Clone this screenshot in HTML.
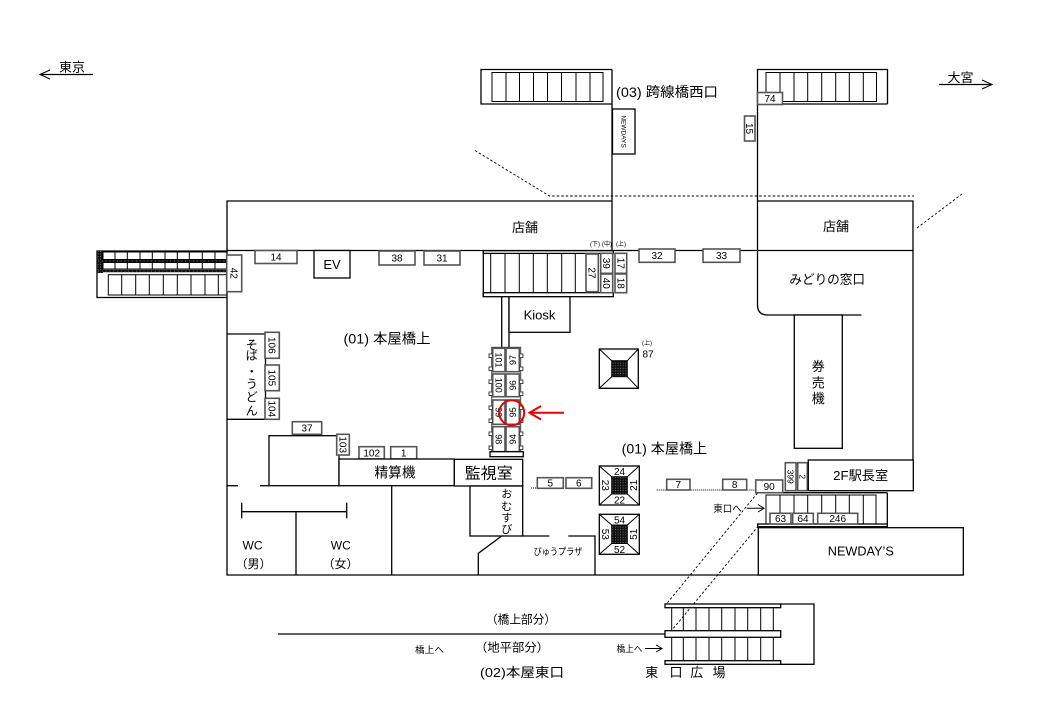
<!DOCTYPE html>
<html><head><meta charset="utf-8"><style>
html,body{margin:0;padding:0;background:#fff;}
svg{display:block}
text{font-family:"Liberation Sans","Noto Sans CJK JP",sans-serif;fill:#000}
.l{stroke:#000;stroke-width:1.3;fill:none}
.w{stroke:#000;stroke-width:1.3;fill:#fff}
.b{stroke:#555;stroke-width:1.6;fill:#fff}
.t{stroke:#000;stroke-width:1;fill:none}
.n{font-size:10px;text-anchor:middle}
.s{font-size:8.5px;text-anchor:middle}
.c{text-anchor:middle}
.d{stroke:#000;stroke-width:0.9;fill:none;stroke-dasharray:2.5 2}
</style></head><body>
<svg width="1040" height="720" viewBox="0 0 1040 720">
<defs>
<pattern id="dp" width="2.6" height="2.6" patternUnits="userSpaceOnUse"><rect width="2.6" height="2.6" fill="#111"/><rect x="1.4" y="1.4" width="0.8" height="0.8" fill="#999"/></pattern>
</defs>

<!-- direction arrows -->
<line class="l" x1="40" y1="74.5" x2="93" y2="74.5"/>
<polyline class="t" points="50,70 40,74.5 50,79"/>
<text x="59" y="71.5" font-size="12.5" textLength="26" lengthAdjust="spacingAndGlyphs">東京</text>
<text x="947.5" y="82" font-size="12.5" textLength="26" lengthAdjust="spacingAndGlyphs">大宮</text>
<line class="l" x1="939" y1="84.5" x2="992" y2="84.5"/>
<polyline class="t" points="982,80 992,84.5 982,89"/>

<!-- top-left stair block -->
<path class="l" d="M612,69.5 H481 V104 H612"/>
<rect class="t" x="492" y="72.5" width="111" height="29"/>
<path class="t" d="M506,72.5V101.5M519.5,72.5V101.5M533.5,72.5V101.5M547.5,72.5V101.5M561.5,72.5V101.5M576,72.5V101.5M590,72.5V101.5"/>
<line class="l" x1="612" y1="69.5" x2="612" y2="250.5"/>

<!-- top-right stair block + corridor right wall -->
<path class="l" d="M887.5,104 V69.5 H757.5 V305 Q757.5,315 767.5,315 H861.5"/>
<line class="l" x1="782" y1="104" x2="887.5" y2="104"/>
<rect class="t" x="766" y="72.5" width="110.5" height="29"/>
<path class="t" d="M780,72.5V101.5M794,72.5V101.5M807.7,72.5V101.5M821.7,72.5V101.5M835.7,72.5V101.5M849.3,72.5V101.5M863.3,72.5V101.5"/>
<rect class="b" x="757.5" y="92.5" width="25" height="12"/><text class="n" x="770" y="102">74</text>
<rect class="b" x="744.5" y="116" width="10.5" height="25"/><text class="n" transform="translate(749.7,128.5) rotate(90)" y="3.5">15</text>
<rect class="w" x="612.5" y="109" width="22.5" height="45"/>
<text transform="translate(623.7,131.5) rotate(90)" y="2.3" font-size="6.5" text-anchor="middle">NEWDAYS</text>
<text x="616" y="97" font-size="14" textLength="102" lengthAdjust="spacingAndGlyphs">(03) 跨線橋西口</text>

<!-- dashed guide lines -->
<polyline class="d" points="475,150.5 549.5,196 914,196"/>
<line class="d" x1="917" y1="228" x2="962" y2="194"/>

<!-- building outline -->
<path class="l" d="M612,201 H227 V575 H963.5"/>
<path class="l" d="M757.5,201 H913 V490.5"/>
<line class="l" x1="227" y1="250.5" x2="913" y2="250.5"/>
<text class="c" x="525" y="232" font-size="13">店舗</text>
<text class="c" x="836" y="231" font-size="13">店舗</text>

<!-- left escalator -->
<path class="l" d="M227,251 H97 V297.5 H227"/>
<rect x="97" y="251" width="6" height="22" fill="url(#dp)"/>
<rect class="t" x="103" y="252" width="124" height="7.5"/>
<path class="t" d="M115,252V259.5M127.3,252V259.5M140,252V259.5M152.3,252V259.5M165,252V259.5M177.3,252V259.5M189.3,252V259.5M202.3,252V259.5M215,252V259.5"/>
<line stroke="#111" stroke-width="2.6" x1="97" y1="261" x2="227" y2="261"/>
<rect class="t" x="103" y="262.5" width="124" height="6.5"/>
<path class="t" d="M115,262.5V269M127.3,262.5V269M140,262.5V269M152.3,262.5V269M165,262.5V269M177.3,262.5V269M189.3,262.5V269M202.3,262.5V269M215,262.5V269"/>
<line stroke="#111" stroke-width="2.6" x1="97" y1="271" x2="227" y2="271"/>
<line stroke="#999" stroke-width="0.8" stroke-dasharray="0.8 3" x1="98" y1="261" x2="227" y2="261"/>
<line stroke="#999" stroke-width="0.8" stroke-dasharray="0.8 3" x1="98" y1="271" x2="227" y2="271"/>
<rect class="t" x="108.3" y="274.7" width="118.7" height="20.3"/>
<path class="t" d="M121.7,274.7V295M135.7,274.7V295M149.3,274.7V295M163.3,274.7V295M177.3,274.7V295M191,274.7V295M205,274.7V295M218.3,274.7V295"/>
<rect class="b" x="226.7" y="255" width="15" height="36.7"/>
<text class="n" transform="translate(234.2,273.3) rotate(90)" y="3.5">42</text>

<!-- boxes along 店舗 line -->
<rect class="b" x="255" y="250.5" width="42" height="13"/><text class="n" x="276" y="260.5">14</text>
<rect class="w" x="314" y="250.5" width="36" height="27.5"/><text class="c" x="332" y="269" font-size="13">EV</text>
<rect class="b" x="379" y="251" width="36" height="14"/><text class="n" x="397" y="261.5">38</text>
<rect class="b" x="424" y="251" width="36" height="14"/><text class="n" x="442" y="261.5">31</text>
<rect class="b" x="639" y="249" width="36" height="13.3"/><text class="n" x="657" y="259.2">32</text>
<rect class="b" x="703" y="249" width="37" height="13.3"/><text class="n" x="721.5" y="259.2">33</text>

<!-- central stair -->
<rect class="w" x="483.3" y="250.7" width="130" height="2.7"/>
<line class="l" x1="483.3" y1="250.7" x2="483.3" y2="296.7"/>
<rect class="w" x="483.3" y="292.7" width="130" height="4"/>
<path class="t" d="M490.7,253.4V292.7M505,253.4V292.7M519.3,253.4V292.7M533.3,253.4V292.7M547.3,253.4V292.7M561.7,253.4V292.7M575.3,253.4V292.7"/>
<rect class="b" x="586" y="254" width="12.3" height="37.7"/><text class="n" transform="translate(592.2,272.9) rotate(90)" y="3.5">27</text>
<rect class="b" x="600.7" y="253.3" width="12" height="20"/><text class="n" transform="translate(606.7,263.3) rotate(90)" y="3.5">39</text>
<rect class="b" x="600.7" y="274" width="12" height="18.7"/><text class="n" transform="translate(606.7,283.3) rotate(90)" y="3.5">40</text>
<rect class="b" x="615" y="253.3" width="11.7" height="20"/><text class="n" transform="translate(620.8,263.3) rotate(90)" y="3.5">17</text>
<rect class="b" x="615" y="274" width="11.7" height="18.7"/><text class="n" transform="translate(620.8,283.3) rotate(90)" y="3.5">18</text>
<text class="c" x="595" y="246" font-size="6">(下)</text>
<text class="c" x="607" y="246" font-size="6">(中)</text>
<text class="c" x="621" y="246" font-size="6">(上)</text>

<!-- pillar & kiosk -->
<line class="l" x1="501.7" y1="296.7" x2="501.7" y2="348.3"/>
<line class="l" x1="509" y1="296.7" x2="509" y2="348.3"/>
<rect class="w" x="509" y="296.7" width="61" height="35.6"/>
<text class="c" x="539.5" y="319.5" font-size="13">Kiosk</text>

<!-- lockers -->
<rect x="491.7" y="347.3" width="29" height="104.4" fill="#fff" stroke="#444" stroke-width="1"/>
<g class="b">
<rect x="492.7" y="348.3" width="12.3" height="23.4"/><rect x="506" y="348.3" width="13.3" height="23.4"/>
<rect x="492.7" y="374" width="12.3" height="22.7"/><rect x="506" y="374" width="13.3" height="22.7"/>
<rect x="492.7" y="400" width="12.3" height="24.3"/><rect x="506" y="400" width="13.3" height="24.3"/>
<rect x="492.7" y="426.7" width="12.3" height="25"/><rect x="506" y="426.7" width="13.3" height="25"/>
</g>
<rect class="w" x="490" y="451.7" width="33.3" height="5"/>
<g stroke="#444" stroke-width="1" fill="#fff">
<rect x="489" y="354" width="3.4" height="3.5"/><rect x="489" y="367" width="3.4" height="3.5"/>
<rect x="489" y="380" width="3.4" height="3.5"/><rect x="489" y="392" width="3.4" height="3.5"/>
<rect x="489" y="406" width="3.4" height="3.5"/><rect x="489" y="419" width="3.4" height="3.5"/>
<rect x="489" y="432" width="3.4" height="3.5"/><rect x="489" y="446" width="3.4" height="3.5"/>
<rect x="519.5" y="354" width="3.4" height="3.5"/><rect x="519.5" y="367" width="3.4" height="3.5"/>
<rect x="519.5" y="380" width="3.4" height="3.5"/><rect x="519.5" y="392" width="3.4" height="3.5"/>
<rect x="519.5" y="406" width="3.4" height="3.5"/><rect x="519.5" y="419" width="3.4" height="3.5"/>
<rect x="519.5" y="432" width="3.4" height="3.5"/><rect x="519.5" y="446" width="3.4" height="3.5"/>
</g>
<g font-size="9" text-anchor="middle">
<text transform="translate(498.8,360) rotate(90)" y="3.2">101</text>
<text transform="translate(498.8,385.3) rotate(90)" y="3.2">100</text>
<text transform="translate(498.8,412.2) rotate(90)" y="3.2">99</text>
<text transform="translate(498.8,439.2) rotate(90)" y="3.2">98</text>
<text transform="translate(512.7,360) rotate(-90)" y="3.2">97</text>
<text transform="translate(512.7,385.3) rotate(-90)" y="3.2">96</text>
<text transform="translate(512.7,412.2) rotate(-90)" y="3.2">95</text>
<text transform="translate(512.7,439.2) rotate(-90)" y="3.2">94</text>
</g>
<circle cx="511.7" cy="412.7" r="12.5" fill="none" stroke="#e00" stroke-width="2"/>
<line x1="564" y1="412.7" x2="531" y2="412.7" stroke="#e00" stroke-width="2"/>
<polyline points="541,406 529.5,412.7 541,419.5" fill="none" stroke="#e00" stroke-width="2"/>

<!-- square stairs -->
<rect class="w" x="599.3" y="349" width="39" height="39.3"/>
<rect x="611.7" y="360.7" width="15.6" height="16" fill="url(#dp)" stroke="#000" stroke-width="1"/>
<path class="t" d="M599.3,349L611.7,360.7M638.3,349L627.3,360.7M599.3,388.3L611.7,376.7M638.3,388.3L627.3,376.7"/>
<text class="c" x="647" y="345" font-size="6">(上)</text>
<text class="n" x="648" y="357.5">87</text>

<rect class="w" x="599.3" y="466" width="40" height="39"/>
<rect x="611.7" y="476.7" width="15.6" height="17.3" fill="url(#dp)" stroke="#000" stroke-width="1"/>
<path class="t" d="M599.3,466L611.7,476.7M639.3,466L627.3,476.7M599.3,505L611.7,494M639.3,505L627.3,494"/>
<text class="n" x="619.5" y="475">24</text>
<text class="n" x="619.5" y="503.5">22</text>
<text class="n" transform="translate(605.5,485.3) rotate(90)" y="3.5">23</text>
<text class="n" transform="translate(633.3,485.3) rotate(-90)" y="3.5">21</text>

<rect class="w" x="599.3" y="514.3" width="40" height="40"/>
<rect x="611.7" y="525" width="15.6" height="18.5" fill="url(#dp)" stroke="#000" stroke-width="1"/>
<path class="t" d="M599.3,514.3L611.7,525M639.3,514.3L627.3,525M599.3,554.3L611.7,543.5M639.3,554.3L627.3,543.5"/>
<text class="n" x="619.5" y="523.5">54</text>
<text class="n" x="619.5" y="553">52</text>
<text class="n" transform="translate(605.5,534.3) rotate(90)" y="3.5">53</text>
<text class="n" transform="translate(633.3,534.3) rotate(-90)" y="3.5">51</text>

<!-- (01) labels -->
<text x="343.5" y="343.5" font-size="14" textLength="87" lengthAdjust="spacingAndGlyphs">(01) 本屋橋上</text>
<text x="621.7" y="453.5" font-size="14" textLength="85.5" lengthAdjust="spacingAndGlyphs">(01) 本屋橋上</text>

<!-- soba/udon -->
<path class="l" d="M227,334 H265.5 V419.3 H227"/>
<rect class="b" x="265" y="332.3" width="14.3" height="26"/><text class="n" transform="translate(272.2,345.3) rotate(90)" y="3.5">106</text>
<rect class="b" x="265" y="365" width="14.3" height="25.7"/><text class="n" transform="translate(272.2,377.8) rotate(90)" y="3.5">105</text>
<rect class="b" x="265" y="398.3" width="14.3" height="21"/><text class="n" transform="translate(272.2,408.8) rotate(90)" y="3.5">104</text>
<g font-size="12" text-anchor="middle">
<text x="251.7" y="349">そ</text>
<text x="251.7" y="359.5">ば</text>
<text x="251.7" y="375.5">・</text>
<text x="251.7" y="388">う</text>
<text x="251.7" y="401">ど</text>
<text x="251.7" y="415">ん</text>
</g>

<!-- 37 / big box / 精算機 / 監視室 -->
<rect class="b" x="292.3" y="421.7" width="29.4" height="12.6"/><text class="n" x="307" y="431.5">37</text>
<rect class="w" x="269" y="435.7" width="70" height="50"/>
<rect class="b" x="336.7" y="434.3" width="12.6" height="20.7"/><text class="n" transform="translate(343,444.7) rotate(90)" y="3.5">103</text>
<rect class="b" x="359" y="446.7" width="25.3" height="12.3"/><text class="n" x="371.7" y="456.5">102</text>
<rect class="b" x="390.7" y="446.7" width="26" height="12.3"/><text class="n" x="403.7" y="456.5">1</text>
<rect class="w" x="339" y="459" width="115.3" height="26.7"/>
<text class="c" x="395" y="477.5" font-size="14" textLength="41" lengthAdjust="spacingAndGlyphs">精算機</text>
<rect class="w" x="454.3" y="459.3" width="68.4" height="26.7"/>
<text class="c" x="488.8" y="478.5" font-size="15.5" textLength="48" lengthAdjust="spacingAndGlyphs">監視室</text>
<line class="l" x1="227" y1="485.7" x2="238" y2="485.7"/>
<line class="l" x1="260" y1="485.7" x2="269" y2="485.7"/>

<!-- WC -->
<line class="l" x1="241.7" y1="511.7" x2="346.7" y2="511.7"/>
<line class="l" x1="241.7" y1="502.7" x2="241.7" y2="518.3"/>
<line class="l" x1="346.7" y1="502.7" x2="346.7" y2="518.3"/>
<line class="l" x1="296" y1="511.7" x2="296" y2="575"/>
<line class="l" x1="391.7" y1="486" x2="391.7" y2="575"/>
<text class="c" x="252.5" y="549.5" font-size="12">WC</text>
<text class="c" x="253.5" y="568" font-size="12">（男）</text>
<text class="c" x="340.8" y="549.5" font-size="12">WC</text>
<text class="c" x="340.5" y="568" font-size="12">（女）</text>

<!-- おむすび / びゅうプラザ -->
<rect class="w" x="470" y="486" width="52.7" height="50"/>
<g font-size="11" text-anchor="middle">
<text x="506.7" y="497.7">お</text>
<text x="506.7" y="509.8">む</text>
<text x="506.7" y="521.5">す</text>
<text x="506.7" y="533">び</text>
</g>
<path class="l" d="M501.7,536 L478.3,553.3 V575"/>
<line class="l" x1="522.7" y1="536" x2="549.3" y2="536"/>
<path class="l" d="M568.3,536 H595 V575"/>
<text class="c" x="558" y="555" font-size="9.5" textLength="49" lengthAdjust="spacingAndGlyphs">びゅうプラザ</text>

<!-- 5 6 7 8 90 -->
<line x1="531" y1="488" x2="537" y2="488" stroke="#000" stroke-width="1" stroke-dasharray="1 1"/>
<rect class="b" x="537.3" y="477.7" width="26" height="10.6"/><text class="n" x="550.3" y="486.5">5</text>
<rect class="b" x="566" y="477.7" width="25.7" height="10.6"/><text class="n" x="578.8" y="486.5">6</text>
<line x1="656.7" y1="490" x2="756" y2="490" stroke="#000" stroke-width="1" stroke-dasharray="1 1"/>
<rect class="b" x="666.7" y="479.3" width="23.3" height="10.7"/><text class="n" x="678.3" y="488.2">7</text>
<rect class="b" x="722.7" y="479.3" width="24" height="10.7"/><text class="n" x="734.7" y="488.2">8</text>

<!-- right lower block -->
<line class="l" x1="755.7" y1="492.7" x2="887.3" y2="492.7"/>
<line class="l" x1="887.3" y1="492.7" x2="887.3" y2="526.7"/>
<rect class="t" x="766" y="495" width="110" height="29"/>
<path class="t" d="M780,495V524M794,495V524M807.7,495V524M821.7,495V524M835.7,495V524M849.3,495V524M863.3,495V524"/>
<rect class="w" x="757.7" y="524" width="129.6" height="2.7"/>
<rect class="b" x="770" y="513.3" width="21" height="10.7"/><text class="n" x="780.5" y="522">63</text>
<rect class="b" x="792.7" y="513.3" width="20.6" height="10.7"/><text class="n" x="803" y="522">64</text>
<rect class="b" x="817.7" y="513.3" width="40" height="10.7"/><text class="n" x="837.7" y="522">246</text>
<rect class="b" x="755.7" y="480" width="27" height="12.7"/><text class="n" x="769.2" y="490">90</text>
<rect class="b" x="785.3" y="462.7" width="10.7" height="28"/><text transform="translate(790.7,476.7) rotate(90)" y="3" font-size="8.5" text-anchor="middle">399</text>
<rect class="b" x="797.7" y="462.7" width="9.6" height="28"/><text transform="translate(802.5,476.7) rotate(90)" y="3" font-size="8.5" text-anchor="middle">2</text>
<rect class="w" x="808.3" y="460" width="105" height="30.7"/>
<text class="c" x="860.7" y="480" font-size="13" textLength="55" lengthAdjust="spacingAndGlyphs">2F駅長室</text>
<text x="713.3" y="511.8" font-size="9.5" textLength="28.5" lengthAdjust="spacingAndGlyphs">東口へ</text>
<line class="t" x1="746.7" y1="508.3" x2="764" y2="508.3"/>
<polyline class="t" points="758,504.5 764,508.3 758,512"/>
<rect class="w" x="758.3" y="527.7" width="205" height="47.3"/>
<text class="c" x="860.8" y="555.5" font-size="13" textLength="66" lengthAdjust="spacingAndGlyphs">NEWDAY’S</text>

<!-- 券売機 / みどりの窓口 -->
<rect class="w" x="794.3" y="315" width="48" height="133.3"/>
<g font-size="13" text-anchor="middle">
<text x="818.3" y="371">券</text>
<text x="818.3" y="387.5">売</text>
<text x="818.3" y="403">機</text>
</g>
<text class="c" x="827.2" y="284" font-size="13" textLength="75.7" lengthAdjust="spacingAndGlyphs">みどりの窓口</text>

<!-- dashed connectors to east exit -->
<line class="d" x1="757.5" y1="493" x2="666" y2="604.5"/>
<line class="d" x1="758.3" y1="526" x2="669.5" y2="633"/>

<!-- bottom section -->
<line class="l" x1="278" y1="634" x2="665" y2="634"/>
<path class="l" d="M780.7,604 H814 V664.3 H780.7"/>
<path class="t" d="M671.7,607.7V630.7M683.3,607.7V630.7M696,607.7V630.7M709,607.7V630.7M721.7,607.7V630.7M735,607.7V630.7M747.7,607.7V630.7M760.7,607.7V630.7M773.3,607.7V630.7"/>
<path class="t" d="M671.7,637.3V660.7M683.3,637.3V660.7M696,637.3V660.7M709,637.3V660.7M721.7,637.3V660.7M735,637.3V660.7M747.7,637.3V660.7M760.7,637.3V660.7M773.3,637.3V660.7"/>
<rect class="w" x="665" y="604" width="115.7" height="3.7"/>
<rect class="w" x="665" y="630.7" width="115.7" height="6.6"/>
<rect class="w" x="665" y="660.7" width="115.7" height="3.6"/>
<text x="486" y="623.5" font-size="12" textLength="70" lengthAdjust="spacingAndGlyphs">（橋上部分）</text>
<text x="475" y="651.5" font-size="12" textLength="74" lengthAdjust="spacingAndGlyphs">（地平部分）</text>
<text x="415" y="653" font-size="9" textLength="29" lengthAdjust="spacingAndGlyphs">橋上へ</text>
<text x="616.5" y="652" font-size="9" textLength="26" lengthAdjust="spacingAndGlyphs">橋上へ</text>
<line class="t" x1="645" y1="648.5" x2="662" y2="648.5"/>
<polyline class="t" points="656,645 662,648.5 656,652"/>
<text x="480" y="677" font-size="13" textLength="84" lengthAdjust="spacingAndGlyphs">(02)本屋東口</text>
<g font-size="13" text-anchor="middle">
<text x="651.7" y="677">東</text>
<text x="676" y="677">口</text>
<text x="696.7" y="677">広</text>
<text x="719" y="677">場</text>
</g>
</svg>
</body></html>
